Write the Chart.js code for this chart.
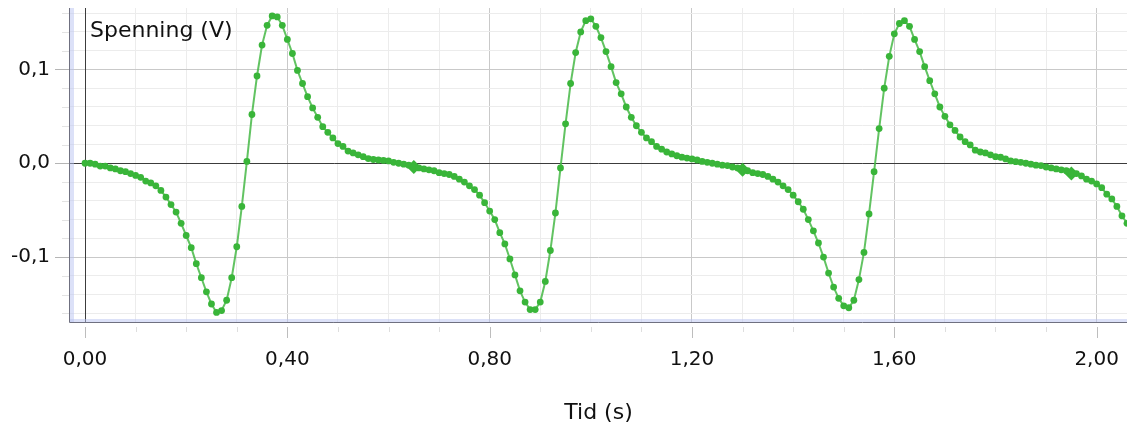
<!DOCTYPE html>
<html>
<head>
<meta charset="utf-8">
<title>Spenning</title>
<script src="https://cdn.jsdelivr.net/npm/chart.js@4.4.1/dist/chart.umd.min.js"></script>
<style>
  html, body { margin: 0; padding: 0; background: #fff; }
  #wrap { width: 1127px; height: 433px; position: relative; }
</style>
</head>
<body>
<div id="wrap"><canvas id="voltageChart"></canvas></div>
<script>
// samples are taken every 0.01 s starting at t = 0
const sampleStep = 0.01;

// voltage (V), one value per sample
const voltage = [
  0.000, 0.000, -0.001, -0.003, -0.003, -0.005, -0.006, -0.008, -0.009, -0.011,
  -0.013, -0.015, -0.019, -0.021, -0.024, -0.029, -0.036, -0.044, -0.052, -0.064,
  -0.077, -0.090, -0.107, -0.122, -0.137, -0.150, -0.159, -0.157, -0.146, -0.122,
  -0.089, -0.046, 0.002, 0.052, 0.093, 0.126, 0.147, 0.157, 0.156, 0.147,
  0.132, 0.117, 0.099, 0.085, 0.071, 0.059, 0.049, 0.039, 0.033, 0.027,
  0.021, 0.018, 0.013, 0.011, 0.009, 0.007, 0.005, 0.004, 0.0035, 0.003,
  0.0025, 0.001, 0.000, -0.001, -0.002, -0.004, -0.005, -0.006, -0.007, -0.008,
  -0.010, -0.011, -0.012, -0.014, -0.017, -0.020, -0.024, -0.028, -0.034, -0.042,
  -0.051, -0.060, -0.074, -0.086, -0.102, -0.119, -0.136, -0.148, -0.156, -0.156,
  -0.148, -0.126, -0.093, -0.053, -0.005, 0.042, 0.085, 0.118, 0.140, 0.152,
  0.154, 0.146, 0.134, 0.119, 0.103, 0.086, 0.074, 0.060, 0.049, 0.040,
  0.033, 0.027, 0.023, 0.018, 0.015, 0.012, 0.010, 0.008, 0.0065, 0.0055,
  0.0046, 0.0035, 0.002, 0.001, 0.000, -0.001, -0.002, -0.0025, -0.004, -0.005,
  -0.007, -0.008, -0.010, -0.011, -0.012, -0.014, -0.017, -0.020, -0.024, -0.028,
  -0.034, -0.041, -0.049, -0.060, -0.072, -0.085, -0.100, -0.117, -0.132, -0.144,
  -0.152, -0.154, -0.146, -0.124, -0.095, -0.054, -0.009, 0.037, 0.080, 0.114,
  0.138, 0.149, 0.152, 0.146, 0.132, 0.119, 0.103, 0.088, 0.074, 0.060,
  0.050, 0.041, 0.035, 0.028, 0.023, 0.0195, 0.014, 0.012, 0.011, 0.009,
  0.007, 0.0064, 0.0046, 0.0025, 0.0017, 0.001, 0.000, -0.001, -0.002, -0.0025,
  -0.004, -0.005, -0.006, -0.007, -0.008, -0.011, -0.011, -0.0135, -0.017, -0.019,
  -0.022, -0.026, -0.033, -0.038, -0.046, -0.056, -0.064
];

// the three diamond markers sitting on the curve
const markerTimes = [0.65, 1.30, 1.95];
const markerValues = [-0.004, -0.007, -0.011];

// axis ticks
const xMajorTicks = [0, 0.4, 0.8, 1.2, 1.6, 2.0];
const xTickLabels = ["0,00", "0,40", "0,80", "1,20", "1,60", "2,00"];
const yMajorTicks = [-0.1, 0, 0.1];
const yTickLabels = ["-0,1", "0,0", "0,1"];

const xAxisTitle = "Tid (s)";
const yAxisTitle = "Spenning (V)";

const FONT = "'DejaVu Sans', 'Noto Sans', sans-serif";
const GREEN = "#39b539";

const points = voltage.map((v, i) => ({ x: +(i * sampleStep).toFixed(2), y: v }));
const markers = markerTimes.map((t, i) => ({ x: t, y: markerValues[i] }));

// minor ticks: x every 0.1, y every 0.02
const xMinor = [];
for (let k = 0; k <= 20; k++) xMinor.push(+(k * 0.1).toFixed(2));
const yMinor = [];
for (let k = -8; k <= 8; k++) yMinor.push(+(k * 0.02).toFixed(2));

function isIn(list, v) {
    return list.findIndex(m => Math.abs(m - v) < 1e-6);
}

function gridColor(majors) {
    return function(c) {
        const v = c.tick ? c.tick.value : 0;
        if (Math.abs(v) > 1e-6 && isIn(majors, v) >= 0) return "#c9c9c9";
        return "#ececec";
    };
}

// zero lines go on top of the grid, under the curve
const zeroLinePlugin = {
    id: "zeroLines",
    beforeDatasetsDraw(chart) {
        const c = chart.ctx;
        const a = chart.chartArea;
        const px = Math.round(chart.scales.x.getPixelForValue(0)) + 0.5;
        const py = Math.round(chart.scales.y.getPixelForValue(0)) + 0.5;
        c.save();
        c.strokeStyle = "#3c3c3c";
        c.lineWidth = 1;
        c.beginPath();
        c.moveTo(px, a.top);
        c.lineTo(px, a.bottom);
        c.moveTo(a.left, py);
        c.lineTo(a.right, py);
        c.stroke();
        c.restore();
    }
};

// borders, tick marks and the y title drawn by hand
const framePlugin = {
    id: "frame",
    afterDraw(chart) {
        const c = chart.ctx;
        const a = chart.chartArea;
        const xs = chart.scales.x;
        const ys = chart.scales.y;
        c.save();

        // x tick marks
        xMinor.forEach(v => {
            const px = Math.round(xs.getPixelForValue(v)) + 0.5;
            const major = isIn(xMajorTicks, v) >= 0;
            c.strokeStyle = major ? "#bdbdbd" : "#dedede";
            c.lineWidth = 1;
            c.beginPath();
            c.moveTo(px, a.bottom + 5);
            c.lineTo(px, a.bottom + (major ? 16 : 10));
            c.stroke();
        });

        // y tick marks
        yMinor.forEach(v => {
            const py = Math.round(ys.getPixelForValue(v)) + 0.5;
            const major = isIn(yMajorTicks, v) >= 0;
            c.strokeStyle = major ? "#b5b5b5" : "#e3e3e3";
            c.beginPath();
            c.moveTo(a.left - (major ? 15 : 8), py);
            c.lineTo(a.left, py);
            c.stroke();
        });

        // left and bottom axis bands
        c.fillStyle = "rgba(185,196,242,0.5)";
        c.fillRect(a.left, a.top, 4, a.bottom - a.top);
        c.fillRect(a.left, a.bottom - 3, a.right - a.left, 3);
        c.strokeStyle = "#6f7080";
        c.beginPath();
        c.moveTo(a.left - 0.5, a.top);
        c.lineTo(a.left - 0.5, a.bottom + 0.5);
        c.lineTo(a.right, a.bottom + 0.5);
        c.stroke();

        // y title inside the plot
        c.fillStyle = "#111";
        c.font = "22px " + FONT;
        c.textAlign = "left";
        c.textBaseline = "middle";
        c.fillText(yAxisTitle, 90, 31);
        c.restore();
    }
};

const ctx = document.getElementById("voltageChart").getContext("2d");

new Chart(ctx, {
    type: "line",
    data: {
        datasets: [{
            data: points,
            borderColor: "rgba(70,185,70,0.85)",
            borderWidth: 2,
            pointRadius: 3.4,
            pointBackgroundColor: GREEN,
            pointBorderWidth: 0,
            tension: 0,
            fill: false
        }, {
            data: markers,
            showLine: false,
            pointStyle: "rectRot",
            pointRadius: 7,
            pointBackgroundColor: GREEN,
            pointBorderWidth: 0
        }]
    },
    options: {
        responsive: true,
        maintainAspectRatio: false,
        animation: false,
        layout: { autoPadding: false, padding: { top: 8, left: 0, right: 0, bottom: 0 } },
        plugins: {
            legend: { display: false },
            tooltip: { enabled: false }
        },
        scales: {
            x: {
                type: "linear",
                min: -0.0297,
                max: 2.06,
                afterBuildTicks: s => { s.ticks = xMinor.map(v => ({ value: v })); },
                afterFit: s => {
                    s.height = 111;
                    s.paddingLeft = 0;
                    s.paddingRight = 0;
                },
                grid: {
                    color: gridColor(xMajorTicks),
                    tickColor: "transparent",
                    tickLength: 22
                },
                border: { display: false },
                ticks: {
                    autoSkip: false,
                    maxRotation: 0,
                    padding: 4,
                    color: "#111",
                    font: { family: FONT, size: 20 },
                    callback: v => {
                        const i = isIn(xMajorTicks, v);
                        return i >= 0 ? xTickLabels[i] : "";
                    }
                },
                title: {
                    display: true,
                    text: xAxisTitle,
                    color: "#111",
                    font: { family: FONT, size: 22 },
                    padding: { top: 0, bottom: 7 }
                }
            },
            y: {
                min: -0.1692,
                max: 0.1655,
                afterBuildTicks: s => { s.ticks = yMinor.map(v => ({ value: v })); },
                afterFit: s => {
                    s.width = 70;
                    s.paddingTop = 0;
                    s.paddingBottom = 0;
                },
                grid: {
                    color: gridColor(yMajorTicks),
                    tickColor: "transparent",
                    tickLength: 14
                },
                border: { display: false },
                ticks: {
                    autoSkip: false,
                    padding: 6,
                    color: "#111",
                    font: { family: FONT, size: 20 },
                    callback: v => {
                        const i = isIn(yMajorTicks, v);
                        return i >= 0 ? yTickLabels[i] : "";
                    }
                }
            }
        }
    },
    plugins: [zeroLinePlugin, framePlugin]
});
</script>
</body>
</html>
